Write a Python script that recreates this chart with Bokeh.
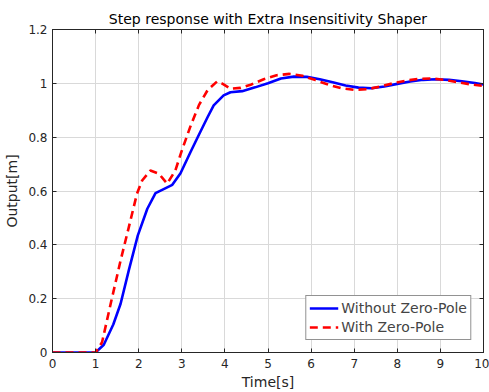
from bokeh.plotting import figure
from bokeh.models import Range1d, LinearAxis, FixedTicker, Legend, LegendItem
from bokeh.embed import file_html
from bokeh.resources import INLINE

# Step response samples (time in s, output in m)
t_without = [0.0, 1.0, 1.19, 1.41, 1.58, 1.77, 1.98, 2.2, 2.39, 2.78, 2.97, 3.2, 3.4, 3.6,
             3.74, 3.97, 4.13, 4.4, 4.7, 5.0, 5.3, 5.6, 5.9, 6.2, 6.5, 6.8, 7.1, 7.4, 7.7,
             8.0, 8.3, 8.6, 8.9, 9.2, 9.5, 9.8, 10.0]
y_without = [0.0, 0.0, 0.029, 0.104, 0.181, 0.305, 0.435, 0.534, 0.592, 0.623, 0.666, 0.744,
             0.81, 0.875, 0.918, 0.955, 0.967, 0.971, 0.985, 1.0, 1.018, 1.025, 1.024, 1.015,
             1.004, 0.992, 0.984, 0.982, 0.988, 0.998, 1.007, 1.013, 1.015, 1.013, 1.008,
             1.001, 0.996]

t_with = [0.0, 1.0, 1.15, 1.35, 1.58, 1.77, 1.96, 2.08, 2.27, 2.47, 2.66, 2.85, 3.0, 3.2,
          3.4, 3.6, 3.82, 3.95, 4.13, 4.36, 4.6, 4.9, 5.2, 5.5, 5.8, 6.1, 6.4, 6.7, 7.0,
          7.3, 7.6, 7.9, 8.2, 8.5, 8.8, 9.1, 9.4, 9.7, 10.0]
y_with = [0.0, 0.0, 0.038, 0.181, 0.342, 0.465, 0.59, 0.639, 0.676, 0.664, 0.627, 0.676,
          0.75, 0.84, 0.92, 0.975, 1.007, 0.998, 0.98, 0.983, 0.995, 1.015, 1.03, 1.035,
          1.028, 1.012, 0.995, 0.982, 0.976, 0.978, 0.988, 1.0, 1.01, 1.017, 1.018, 1.013,
          1.004, 0.996, 0.99]

x_ticks = [0, 1, 2, 3, 4, 5, 6, 7, 8, 9, 10]
y_ticks = [0, 0.2, 0.4, 0.6, 0.8, 1.0, 1.2]
y_tick_labels = ["0", "0.2", "0.4", "0.6", "0.8", "1", "1.2"]

FONT = "DejaVu Sans"
AX = "#262626"

p = figure(width=489, height=392, output_backend="svg", toolbar_location=None,
           x_range=Range1d(0, 10), y_range=Range1d(0, 1.2),
           min_border_left=52, min_border_right=6, min_border_top=29, min_border_bottom=40)

p.title.text = "Step response with Extra Insensitivity Shaper"
p.title.align = "center"
p.title.text_font = FONT
p.title.text_font_size = "14px"
p.title.text_font_style = "normal"
p.title.text_color = "#000000"
p.title.standoff = 6

p.outline_line_color = AX
p.outline_line_width = 1
p.outline_line_alpha = 1

for g in (p.xgrid[0], p.ygrid[0]):
    g.grid_line_color = "#d9d9d9"
    g.grid_line_width = 1
p.xgrid[0].ticker = FixedTicker(ticks=x_ticks)
p.ygrid[0].ticker = FixedTicker(ticks=y_ticks)

xa = p.xaxis[0]
ya = p.yaxis[0]
xa.ticker = FixedTicker(ticks=x_ticks)
ya.ticker = FixedTicker(ticks=y_ticks)
ya.major_label_overrides = {v: s for v, s in zip(y_ticks, y_tick_labels)}
xa.axis_label = "Time[s]"
ya.axis_label = "Output[m]"
for ax in (xa, ya):
    ax.axis_line_color = AX
    ax.major_tick_line_color = AX
    ax.major_tick_in = 4
    ax.major_tick_out = 0
    ax.minor_tick_line_color = None
    ax.major_label_text_font = FONT
    ax.major_label_text_font_size = "12px"
    ax.major_label_text_color = AX
    ax.axis_label_text_font = FONT
    ax.axis_label_text_font_size = "14px"
    ax.axis_label_text_font_style = "normal"
    ax.axis_label_text_color = AX
xa.major_label_standoff = 6
xa.axis_label_standoff = 3
ya.major_label_standoff = 5
ya.axis_label_standoff = 5

# Mirror ticks on the top and right sides of the box (no labels there)
for loc, ticks in (("above", x_ticks), ("right", y_ticks)):
    ax = LinearAxis(ticker=FixedTicker(ticks=ticks))
    ax.axis_line_color = AX
    ax.major_tick_line_color = AX
    ax.major_tick_in = 4
    ax.major_tick_out = 0
    ax.minor_tick_line_color = None
    ax.major_label_text_color = None
    ax.major_label_text_font_size = "1px"
    ax.major_label_standoff = 0
    p.add_layout(ax, loc)

r1 = p.line(t_without, y_without, line_color="#0000ff", line_width=2.6)
r2 = p.line(t_with, y_with, line_color="#ff0000", line_width=2.6, line_dash="8 5")

legend = Legend(items=[LegendItem(label="Without Zero-Pole", renderers=[r1]),
                       LegendItem(label="With Zero-Pole", renderers=[r2])],
                location="bottom_right")
legend.margin = 12
legend.padding = 3
legend.spacing = 1
legend.glyph_width = 29
legend.label_standoff = 3
legend.label_text_font = FONT
legend.label_text_font_size = "14px"
legend.label_height = 18
legend.glyph_height = 18
legend.border_line_color = AX
legend.border_line_width = 1
legend.background_fill_color = "white"
legend.background_fill_alpha = 1
p.add_layout(legend, "center")

open("out.html", "w").write(file_html(p, INLINE))
